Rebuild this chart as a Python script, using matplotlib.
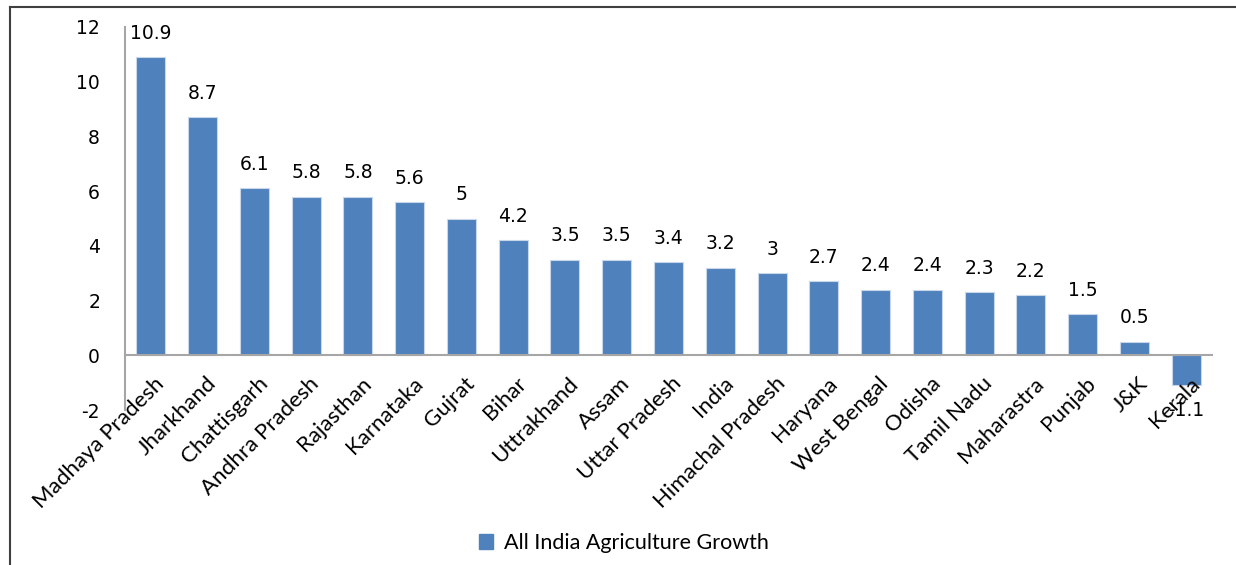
import numpy as np
import matplotlib.pyplot as plt
import matplotlib.transforms as mtransforms
from matplotlib.lines import Line2D
from matplotlib.patches import Patch

# dados
estados = ['Madhaya Pradesh', 'Jharkhand', 'Chattisgarh', 'Andhra Pradesh', 'Rajasthan',
           'Karnataka', 'Gujrat', 'Bihar', 'Uttrakhand', 'Assam', 'Uttar Pradesh', 'India',
           'Himachal Pradesh', 'Haryana', 'West Bengal', 'Odisha', 'Tamil Nadu',
           'Maharastra', 'Punjab', 'J&K', 'Kerala']
crescimento = [10.9, 8.7, 6.1, 5.8, 5.8, 5.6, 5, 4.2, 3.5, 3.5, 3.4, 3.2, 3, 2.7,
               2.4, 2.4, 2.3, 2.2, 1.5, 0.5, -1.1]
rotulos = ['10.9', '8.7', '6.1', '5.8', '5.8', '5.6', '5', '4.2', '3.5', '3.5', '3.4',
           '3.2', '3', '2.7', '2.4', '2.4', '2.3', '2.2', '1.5', '0.5', '-1.1']
serie = 'All India Agriculture Growth'

cor = '#4F81BD'
cinza = '#A6A6A6'

fig = plt.figure(figsize=(12.36, 5.65), dpi=100)
ax = fig.add_axes([125 / 1236, 1 - 410 / 565, (1212 - 125) / 1236, (410 - 27) / 565])

x = np.arange(len(estados))
ax.bar(x, crescimento, width=0.56, color=cor, edgecolor='#C9D7EA', linewidth=0.8)

# rotulos de valor
for xi, v, r in zip(x, crescimento, rotulos):
    off = 10.5 if v >= 0 else -11
    ax.annotate(r, (xi, v), xytext=(0, off), textcoords='offset points',
                ha='center', va='bottom' if v >= 0 else 'top',
                fontsize=13.5, family='DejaVu Sans', color='#000000')

ax.set_xlim(-0.5, len(estados) - 0.5)
ax.set_ylim(-2, 12)
ax.set_yticks(np.arange(-2, 13, 2))
ax.set_yticklabels([str(t) for t in range(-2, 13, 2)], fontsize=13.5, family='DejaVu Sans')

ax.spines['top'].set_visible(False)
ax.spines['right'].set_visible(False)
ax.spines['bottom'].set_position(('data', 0))
ax.spines['bottom'].set_color(cinza)
ax.spines['left'].set_color(cinza)
ax.spines['bottom'].set_linewidth(1.5)
ax.spines['left'].set_linewidth(1.5)

ax.set_xticks(x)
ax.set_xticklabels(estados, rotation=45, ha='right', va='top', rotation_mode='anchor',
                   fontsize=16, family='Lato', color='#000000')
ax.tick_params(axis='x', length=0, pad=13)
ax.tick_params(axis='y', length=0, pad=18)

desloc = mtransforms.ScaledTranslation(3 / 100, 0, fig.dpi_scale_trans)
for lbl in ax.get_xticklabels():
    lbl.set_transform(lbl.get_transform() + desloc)

# legenda
h = Patch(facecolor=cor, edgecolor=cor)
fig.legend([h], [serie], loc='center', bbox_to_anchor=(624 / 1236, 1 - 543 / 565),
           frameon=False, prop={'family': 'Lato', 'size': 15.5}, handlelength=0.65,
           handleheight=0.65, handletextpad=0.5)

# moldura
fig.add_artist(Line2D([10 / 1236, 1], [1 - 6.5 / 565, 1 - 6.5 / 565], color='#404040', lw=1.5))
fig.add_artist(Line2D([10 / 1236, 10 / 1236], [0, 1 - 6.5 / 565], color='#404040', lw=1.5))

plt.savefig('out.png', dpi=100)
